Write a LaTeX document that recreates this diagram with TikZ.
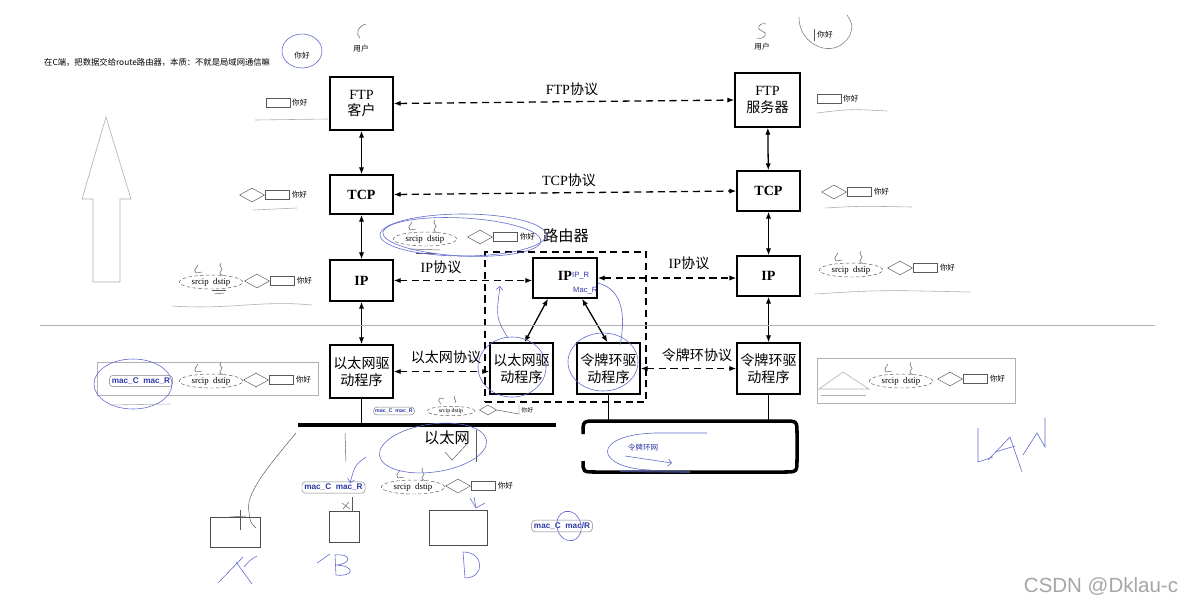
\documentclass[tikz,border=0pt]{standalone}
\usepackage{fontspec}
\setmainfont{Liberation Serif}
\newfontfamily\cjk{Noto Sans CJK SC}
\newfontfamily\lsans{Liberation Sans}
\usetikzlibrary{arrows.meta,shapes.geometric,calc}
\definecolor{handblue}{RGB}{95,105,205}
\definecolor{macblue}{RGB}{45,55,165}
\definecolor{lightg}{RGB}{175,175,180}
\tikzset{
 box/.style={draw, line width=1.1pt, inner sep=0pt, align=center, font=\fontsize{12}{14.5}\selectfont},
 cbox/.style={box, font=\fontsize{12}{14.5}\selectfont\cjk},
 biarrow/.style={{Latex[length=6pt,width=4.5pt]}-{Latex[length=6pt,width=4.5pt]}, line width=1.1pt},
 dasharrow/.style={biarrow, dash pattern=on 6pt off 4pt},
 proto/.style={font=\fontsize{12}{14}\selectfont, inner sep=1pt},
 hello/.style={font=\fontsize{6.5}{7}\selectfont\cjk, inner sep=1pt},
 dia/.style={diamond, draw=black!65, line width=0.4pt, minimum width=0.75cm, minimum height=0.42cm, inner sep=0pt},
 mrect/.style={draw=black!65, line width=0.4pt, minimum width=0.72cm, minimum height=0.27cm, inner sep=0pt},
 ipell/.style={ellipse, draw=black!65, densely dashed, line width=0.4pt, inner sep=0pt, minimum width=1.9cm, minimum height=0.42cm, font=\fontsize{7.5}{8}\selectfont},
 macbox/.style={draw=black!50, rounded corners=3pt, line width=0.4pt, inner sep=2pt, text=macblue, font=\fontsize{7}{8}\selectfont\lsans\bfseries},
 handg/.style={black!65, line width=0.4pt},
 handb/.style={handblue, line width=0.5pt},
 faint/.style={lightg, line width=0.5pt},
 annobox/.style={draw=lightg, line width=0.5pt, inner sep=0pt},
 host/.style={draw=black!70, line width=0.5pt, inner sep=0pt},
 msg/.pic={
  \node[dia] (-d) at (0,0) {};
  \node[mrect, anchor=west] (-r) at (-d.east) {};
  \node[hello, anchor=west] (-t) at ([xshift=1pt]-r.east) {你好};
 },
 ipe/.pic={
  \node[ipell] (-e) at (0,0) {srcip\ \ dstip};
  \draw[handg] (-13,-17) .. controls (-17,-11) .. (-15,-9) -- (-9,-10);
  \draw[handg] (10,-19) .. controls (6,-15) and (14,-14) .. (10,-11) .. controls (8,-9) .. (12,-6);
 }
}
\begin{document}
\begin{tikzpicture}[x=0.03cm,y=-0.03cm]
\useasboundingbox (0,0) rectangle (1184,606);
\fill[white] (0,0) rectangle (1184,606);

% ---------- top notes ----------
\node[anchor=west, font=\fontsize{7.1}{8}\selectfont\cjk, inner sep=0pt] (note) at (44,62) {在C端，把数据交给route路由器，本质：不就是局域网通信嘛};
\node[hello] (hiC) at (302,56) {你好};
\draw[handb] (302,51) ellipse [x radius=20, y radius=17];
\node[hello] (userC) at (361,49) {用户};
\draw[handg] (366,24) .. controls (358,26) and (355,34) .. (360,38);
\node[hello] (userS) at (762,47) {用户};
\draw[handg] (766,24) .. controls (758,22) and (756,30) .. (762,31) .. controls (768,32) and (766,40) .. (757,38);
\draw[handg] (814,29) -- (814,41);
\node[hello, anchor=west] (hiS) at (816,35) {你好};
\draw[black!50, line width=0.5pt] (799,17) .. controls (798,45) and (835,62) .. (850,35) .. controls (853,25) .. (847,15);

% big hollow arrow
\draw[faint] (93,282) -- (93,199) -- (82,199) -- (106,117) -- (131,199) -- (120,199) -- (120,282) -- cycle;

% ---------- router frame ----------
\node[draw, dash pattern=on 6pt off 4pt, line width=1pt, minimum width=4.83cm, minimum height=4.5cm, inner sep=0pt] (rbox) at (565.5,327) {};
\node[font=\fontsize{13}{14}\selectfont\cjk, inner sep=1pt] (router) at (566,236) {路由器};

% ---------- main boxes ----------
\node[box, minimum width=1.89cm, minimum height=1.59cm] (ftpc) at (361.5,103.5) {FTP\\\cjk 客户};
\node[box, minimum width=1.89cm, minimum height=1.17cm] (tcpl) at (361.5,194.5) {\textbf{TCP}};
\node[box, minimum width=1.89cm, minimum height=1.23cm] (ipl) at (361.5,280.5) {\textbf{IP}};
\node[cbox, minimum width=1.89cm, minimum height=1.59cm] (ethl) at (361.5,371.5) {以太网驱\\动程序};

\node[box, minimum width=1.95cm, minimum height=1.62cm] (ftps) at (767.5,100) {FTP\\\cjk 服务器};
\node[box, minimum width=1.89cm, minimum height=1.2cm] (tcpr) at (768.5,191) {\textbf{TCP}};
\node[box, minimum width=1.89cm, minimum height=1.2cm] (ipr) at (768.5,276) {\textbf{IP}};
\node[cbox, minimum width=1.89cm, minimum height=1.53cm] (tokr) at (768.5,368.5) {令牌环驱\\动程序};

\node[box, minimum width=1.92cm, minimum height=1.2cm] (ipm) at (565,278) {};
\node[font=\fontsize{12}{14}\selectfont\bfseries, inner sep=0pt] (ipmt) at (565,276) {IP};
\node[anchor=west, font=\fontsize{6.5}{7}\selectfont\lsans, text=macblue, inner sep=0pt] (ipR) at (572,276) {IP\_R};
\node[anchor=west, font=\fontsize{6.5}{7}\selectfont\lsans, text=macblue, inner sep=0pt] (macR) at (573,291) {Mac\_R};
\node[cbox, minimum width=1.89cm, minimum height=1.53cm] (ethm) at (521.5,368.5) {以太网驱\\动程序};
\node[cbox, minimum width=1.89cm, minimum height=1.53cm] (tokm) at (608.5,368.5) {令牌环驱\\动程序};

% ---------- connectors ----------
\draw[biarrow] (ftpc) -- (tcpl);
\draw[biarrow] (tcpl) -- (ipl);
\draw[biarrow] (ipl) -- (ethl);
\draw[biarrow] (ftps) -- (tcpr);
\draw[biarrow] (tcpr) -- (ipr);
\draw[biarrow] (ipr) -- (tokr);
\draw[biarrow] ($(ipm.south)+(-17,0)$) -- ($(ethm.north)+(3,0)$);
\draw[biarrow] ($(ipm.south)+(17,0)$) -- ($(tokm.north)+(-1,0)$);

\draw[dasharrow] (ftpc.east) -- (ftps.west);
\draw[dasharrow] (tcpl.east) -- (tcpr.west);
\draw[dasharrow] (ipl.east) -- (ipl.east -| ipm.west);
\draw[dasharrow] (ipm.east) -- (ipm.east -| ipr.west);
\draw[dasharrow] (ethl.east) -- (ethl.east -| ethm.west);
\draw[dasharrow] (tokr.west -| tokm.east) -- (tokr.west);

\node[proto] (pftp) at (572,89) {FTP{\cjk 协议}};
\node[proto] (ptcp) at (569,180) {TCP{\cjk 协议}};
\node[proto] (pip1) at (441,267) {IP{\cjk 协议}};
\node[proto] (pip2) at (689,263) {IP{\cjk 协议}};
\node[proto, font=\fontsize{12}{14}\selectfont\cjk] (peth) at (446,357) {以太网协议};
\node[proto, font=\fontsize{12}{14}\selectfont\cjk] (ptok) at (697,355) {令牌环协议};

% ---------- networks ----------
\coordinate (busL) at (298,425);
\coordinate (busR) at (556,425);
\coordinate (ringtop) at (700,421);
\draw[line width=3pt] (busL) -- (busR);
\draw[line width=0.8pt] (ethl.south) -- (ethl.south |- busL);
\draw[line width=3pt] (583,434) .. controls (583,421) .. (596,421) -- (784,421) .. controls (797,421) .. (797,434) -- (797,459) .. controls (797,472) .. (784,472) -- (596,472) .. controls (583,472) .. (583,461);
\draw[line width=0.8pt] (tokm.south) -- (tokm.south |- ringtop);
\draw[line width=0.8pt] (tokr.south) -- (tokr.south |- ringtop);
\node[font=\fontsize{13}{14}\selectfont\cjk, inner sep=1pt] (ethnet) at (447,438) {以太网};
\node[font=\fontsize{6.5}{7}\selectfont\cjk, text=macblue, inner sep=1pt] (ringlbl) at (643,448) {令牌环网};

% ---------- annotations: FTP level ----------
\node[mrect] (r1) at (278.5,102.5) {};
\node[hello, anchor=west] (h1) at (r1.east) {你好};
\draw[faint] (255,120) -- (328,119);
\node[mrect] (r2) at (829.5,98.5) {};
\node[hello, anchor=west] (h2) at (r2.east) {你好};
\draw[faint] (817,113) .. controls (850,109) .. (887,111);

% TCP level
\pic (mt1) at (252,195) {msg};
\draw[faint] (253,210) -- (297,208);
\pic (mt2) at (834,192) {msg};
\draw[faint] (825,208) .. controls (860,206) .. (912,207);

% IP level
\pic (ie1) at (211,282) {ipe};
\pic (mi1) at (257,281) {msg};
\draw[handg] (212,290) -- (226,290);
\draw[handg] (214,294) -- (224,293);
\draw[faint] (172,306) .. controls (230,310) and (260,300) .. (312,305);

\pic (ie2) at (425,239) {ipe};
\pic (mi2) at (480,237) {msg};
\draw[handg] (410,249) -- (440,250);
\draw[handg] (416,253) -- (436,253);
\draw[handb] (463,235) ellipse [x radius=83, y radius=21];
\draw[handb, rotate around={-3:(463,235)}] (462,237) ellipse [x radius=79, y radius=19];

\pic (ie3) at (851,270) {ipe};
\pic (mi3) at (900,268) {msg};
\draw[faint] (815,294) .. controls (880,290) .. (970,292);

\draw[lightg, line width=0.6pt] (40,325) -- (1155,325);

% Ethernet level, left
\node[annobox, minimum width=6.63cm, minimum height=0.99cm] (lbox) at (207.5,378.5) {};
\node[macbox] (mac1) at (141,381) {mac\_C\ \ mac\_R};
\pic (ie4) at (211,381) {ipe};
\pic (mi4) at (256,380) {msg};
\draw[handb] (133,384) ellipse [x radius=39, y radius=25];
\draw[faint] (110,405) -- (170,404);

% Ethernet level, right
\node[annobox, minimum width=5.94cm, minimum height=1.35cm] (rbox2) at (916,380.5) {};
\draw[faint] (819,389) -- (843,372) -- (869,389) -- cycle;
\draw[faint] (821,395) -- (866,395);
\pic (ie5) at (901,381) {ipe};
\pic (mi5) at (950,379) {msg};

% small frame under left driver
\node[macbox, font=\fontsize{4.5}{5}\selectfont\lsans\bfseries, inner sep=1.5pt] (mac2) at (394,411) {mac\_C\ \ mac\_R};
\node[ipell, minimum width=1.45cm, minimum height=0.28cm, font=\fontsize{5}{6}\selectfont] (se) at (451,411) {srcip\ dstip};
\draw[handg] (441,404) .. controls (438,400) .. (440,398) -- (444,399);
\draw[handg] (455,396) .. controls (452,399) and (458,400) .. (455,403);
\node[dia, minimum width=0.52cm, minimum height=0.3cm] (sd) at (488,410) {};
\draw[handg] (sd.east) -- (519,414) -- (519,404);
\node[hello, font=\fontsize{5}{6}\selectfont\cjk, anchor=west] (sh) at (520,410) {你好};

% around Ethernet label
\draw[handb, rotate around={8:(433,448)}] (433,448) ellipse [x radius=54, y radius=24];
\draw[handg] (445,452) -- (452,460) -- (468,443);
\draw[handg] (476,430) -- (476,462);

% token ring hand marks
\draw[handb] (707,433) -- (655,433) .. controls (590,435) and (595,468) .. (650,470);
\draw[handb, -{Straight Barb[length=3pt]}] (625,456) -- (672,463);
\draw[handblue, line width=1.5pt, opacity=0.6] (620,471) -- (690,472);

% router hand marks
\draw[handb] (512,367) ellipse [x radius=34, y radius=30];
\draw[handb] (603,362) ellipse [x radius=35, y radius=29];
\draw[handb, -{Straight Barb[length=3pt]}] (508,338) .. controls (496,318) .. (500,286);
\draw[handb] (598,283) .. controls (625,290) and (625,320) .. (620,345);

% ---------- bottom ----------
\node[macbox] (mac3) at (333.5,487.5) {mac\_C\ \ mac\_R};
\pic (ie6) at (413,487) {ipe};
\pic (mi6) at (458,486) {msg};

\node[host, minimum width=1.5cm, minimum height=0.9cm] (hostA) at (235,532) {};
\node[host, minimum width=0.9cm, minimum height=0.93cm] (hostB) at (344,526.5) {};
\node[host, minimum width=1.74cm, minimum height=1.05cm] (hostD) at (458,527.5) {};
\node[macbox] (mac4) at (562,526) {mac\_C\ \ mac/R};
\draw[handb, rotate around={15:(569,526)}] (569,526) ellipse [x radius=12, y radius=15];

\draw[handg] (296,433) .. controls (265,470) and (245,495) .. (249,512) .. controls (250,522) .. (256,528);
\draw[handg] (240,510) -- (240,530);
\draw[handg] (230,517) -- (246,516);
\draw[handg] (345,433) -- (346,462);
\draw[handb, -{Straight Barb[length=3pt]}] (366,457) .. controls (355,465) .. (350,483);
\draw[handg] (352,497) -- (352,512);
\draw[handg] (342,503) -- (350,509);
\draw[handg] (343,509) -- (349,502);
\draw[handb] (470,498) -- (476,508) -- (485,503);
\draw[handb] (474,497) -- (476,508);

% handwritten letters
\draw[handb] (218,583) -- (243,557);
\draw[handb] (236,562) -- (252,584);
\draw[handb] (244,567) .. controls (250,560) .. (257,556);
\draw[handb] (317,563) -- (330,554);
\draw[handb] (335,555) -- (336,575);
\draw[handb] (335,555) .. controls (352,553) and (352,564) .. (336,565) .. controls (356,566) and (354,577) .. (336,575);
\draw[handb] (463,552) -- (465,578);
\draw[handb] (463,552) .. controls (485,552) and (485,578) .. (465,578);
\draw[handb] (978,428) -- (978,462) -- (993,457);
\draw[handb] (988,460) -- (1010,437) -- (1022,472);
\draw[handb] (995,452) -- (1015,446);
\draw[handb] (1023,455) -- (1037,433) -- (1045,447) -- (1045,418);

% watermark
\node[font=\fontsize{17.5}{18}\selectfont\lsans, text=black!35, inner sep=0pt] (wm) at (1101,586) {CSDN @Dklau-c};
\end{tikzpicture}
\end{document}
